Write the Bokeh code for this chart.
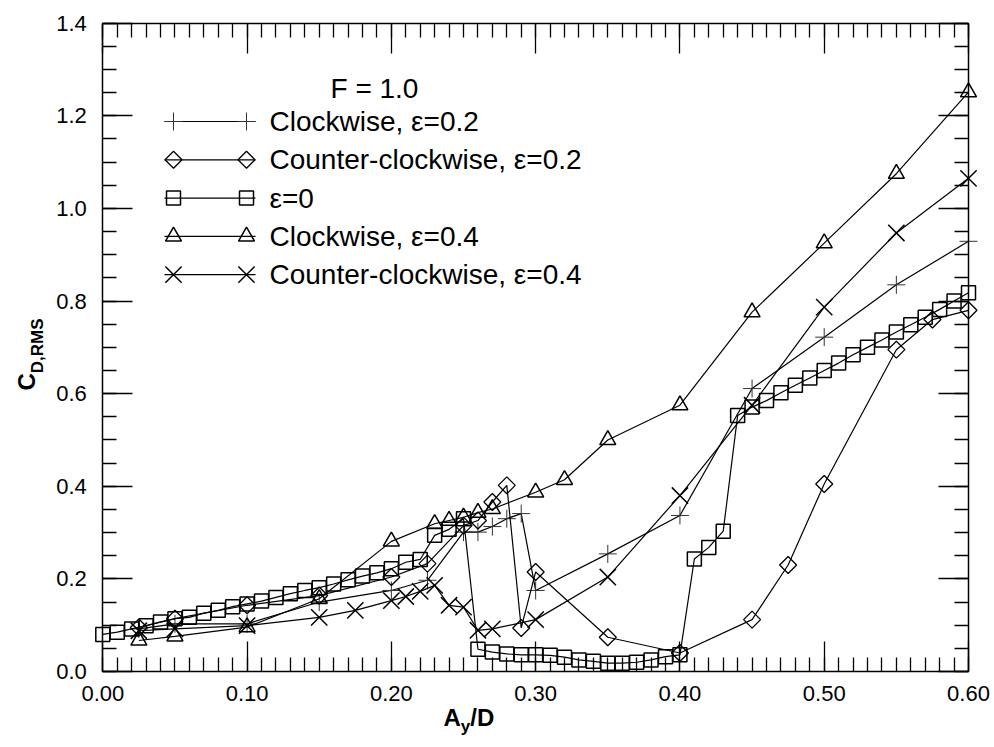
import numpy as np
from bokeh.plotting import figure
from bokeh.models import Range1d, LinearAxis, SingleIntervalTicker, NumeralTickFormatter, Label
from bokeh.embed import file_html
from bokeh.resources import INLINE

# ---------------- data ----------------
cw02_x = [0.025, 0.05, 0.10, 0.15, 0.20, 0.225, 0.25, 0.26, 0.27, 0.28, 0.29, 0.30, 0.35, 0.40, 0.45, 0.50, 0.55, 0.60]
cw02_y = [0.092, 0.103, 0.103, 0.150, 0.175, 0.197, 0.301, 0.301, 0.313, 0.330, 0.341, 0.175, 0.254, 0.337, 0.611, 0.722, 0.835, 0.929]

ccw02_x = [0.025, 0.05, 0.10, 0.15, 0.20, 0.225, 0.25, 0.26, 0.27, 0.28, 0.29, 0.30, 0.35, 0.40, 0.45, 0.475, 0.50, 0.55, 0.575, 0.60]
ccw02_y = [0.095, 0.114, 0.143, 0.164, 0.204, 0.233, 0.315, 0.326, 0.366, 0.402, 0.094, 0.215, 0.074, 0.040, 0.112, 0.230, 0.405, 0.695, 0.760, 0.780]

eps0_x = [0.00, 0.01, 0.02, 0.03, 0.04, 0.05, 0.06, 0.07, 0.08, 0.09,
          0.10, 0.11, 0.12, 0.13, 0.14, 0.15, 0.16, 0.17, 0.18, 0.19,
          0.20, 0.21, 0.22, 0.23, 0.24, 0.25, 0.26, 0.27, 0.28, 0.29,
          0.30, 0.31, 0.32, 0.33, 0.34, 0.35, 0.36, 0.37, 0.38, 0.39,
          0.40, 0.41, 0.42, 0.43, 0.44, 0.45, 0.46, 0.47, 0.48, 0.49,
          0.50, 0.51, 0.52, 0.53, 0.54, 0.55, 0.56, 0.57, 0.58, 0.59, 0.60]
eps0_y = [0.080, 0.085, 0.092, 0.099, 0.107, 0.114, 0.117, 0.126, 0.132, 0.140,
          0.146, 0.152, 0.160, 0.168, 0.175, 0.181, 0.189, 0.198, 0.206, 0.213,
          0.222, 0.236, 0.242, 0.294, 0.307, 0.330, 0.048, 0.042, 0.038, 0.036,
          0.036, 0.035, 0.031, 0.025, 0.022, 0.018, 0.018, 0.020, 0.025, 0.032,
          0.036, 0.243, 0.268, 0.303, 0.553, 0.571, 0.585, 0.602, 0.618, 0.634,
          0.650, 0.666, 0.684, 0.700, 0.716, 0.733, 0.749, 0.765, 0.782, 0.800, 0.818]

cw04_x = [0.025, 0.05, 0.10, 0.15, 0.20, 0.23, 0.24, 0.25, 0.26, 0.27, 0.30, 0.32, 0.35, 0.40, 0.45, 0.50, 0.55, 0.60]
cw04_y = [0.067, 0.076, 0.096, 0.157, 0.281, 0.319, 0.326, 0.333, 0.343, 0.351, 0.387, 0.414, 0.500, 0.575, 0.776, 0.925, 1.075, 1.251]

ccw04_x = [0.025, 0.05, 0.10, 0.15, 0.175, 0.20, 0.21, 0.22, 0.23, 0.24, 0.25, 0.26, 0.27, 0.30, 0.35, 0.40, 0.45, 0.50, 0.55, 0.60]
ccw04_y = [0.088, 0.092, 0.099, 0.117, 0.132, 0.153, 0.162, 0.173, 0.186, 0.143, 0.139, 0.089, 0.092, 0.112, 0.204, 0.380, 0.575, 0.787, 0.947, 1.065]

legend_title = "F = 1.0"
labels = ["Clockwise, \u03b5=0.2", "Counter-clockwise, \u03b5=0.2", "\u03b5=0",
          "Clockwise, \u03b5=0.4", "Counter-clockwise, \u03b5=0.4"]

XMIN, XMAX, YMIN, YMAX = 0.0, 0.6, 0.0, 1.4
x_ticks_interval = 0.1
y_ticks_interval = 0.2

# ---------------- layout (page pixels) ----------------
FONT = "Liberation Sans"
W, H = 992, 741
AX_L, AX_R, AX_T, AX_B = 102.3, 968.0, 22.7, 671.0   # data-rectangle edges in pixels
kx = (AX_R - AX_L) / (XMAX - XMIN)
ky = (AX_B - AX_T) / (YMAX - YMIN)

p = figure(width=W, height=H,
           x_range=Range1d(XMIN - AX_L / kx, XMAX + (W - AX_R) / kx),
           y_range=Range1d(YMIN - (H - AX_B) / ky, YMAX + AX_T / ky),
           output_backend="svg", toolbar_location=None,
           x_axis_location=None, y_axis_location=None,
           min_border=0, min_border_left=0, min_border_right=0,
           min_border_top=0, min_border_bottom=0,
           background_fill_color="white", border_fill_color="white")
p.outline_line_color = None
p.grid.visible = False
p.extra_x_ranges = {"px": Range1d(0, W)}
p.extra_y_ranges = {"px": Range1d(H, 0)}

EPS = 1e-7

def make_axis(kind, loc, show_labels):
    if kind == "x":
        ax = LinearAxis(ticker=SingleIntervalTicker(interval=x_ticks_interval, num_minor_ticks=10),
                        formatter=NumeralTickFormatter(format="0.00"),
                        fixed_location=loc, bounds=(XMIN, XMAX + EPS))
    else:
        ax = LinearAxis(ticker=SingleIntervalTicker(interval=y_ticks_interval, num_minor_ticks=4),
                        formatter=NumeralTickFormatter(format="0.0"),
                        fixed_location=loc, bounds=(YMIN, YMAX + EPS))
    ax.axis_line_color = "black"
    ax.axis_line_width = 1.5
    ax.major_tick_in = 30
    ax.major_tick_out = 0
    ax.minor_tick_in = 14
    ax.minor_tick_out = 0
    ax.major_tick_line_color = "black"
    ax.minor_tick_line_color = "black"
    ax.major_tick_line_width = 1.3
    ax.minor_tick_line_width = 1.3
    ax.major_label_text_font = FONT
    ax.major_label_text_font_size = "22px"
    if show_labels:
        ax.major_label_text_color = "black"
        ax.major_label_standoff = 14 if kind == "x" else 16
    else:
        ax.major_label_text_color = None
    return ax

p.add_layout(make_axis("x", YMIN, True), "below")
p.add_layout(make_axis("x", YMAX, False), "above")
p.add_layout(make_axis("y", XMIN, True), "left")
p.add_layout(make_axis("y", XMAX + EPS, False), "right")

LINE_W = 1.2
styles = [
    dict(marker="cross", size=18, line_color="#333333", line_width=1.0, angle=0.0),
    dict(marker="square", size=12, line_color="black", line_width=1.3, angle=np.pi / 4),
    dict(marker="square", size=14, line_color="black", line_width=1.5, angle=0.0),
    dict(marker="triangle", size=16, line_color="black", line_width=1.5, angle=0.0),
    dict(marker="x", size=23, line_color="black", line_width=1.5, angle=0.0),
]
series = [(cw02_x, cw02_y), (ccw02_x, ccw02_y), (eps0_x, eps0_y), (cw04_x, cw04_y), (ccw04_x, ccw04_y)]

for (xs, ys), st in zip(series, styles):
    p.line(xs, ys, line_color="black", line_width=LINE_W)
    p.scatter(xs, ys, marker=st["marker"], size=st["size"], angle=st["angle"],
              line_color=st["line_color"], line_width=st["line_width"], fill_color=None)

# ---------------- legend (page pixel coordinates) ----------------
row0, drow = 121.0, 38.3
ln0, ln1 = 164.0, 255.0
mk0, mk1 = 173.0, 246.0
txt_x = 269.0
LEG_FS = "28px"
p.add_layout(Label(x=330, y=88, x_range_name="px", y_range_name="px", text=legend_title,
                   text_font=FONT, text_font_size=LEG_FS, text_color="black", text_baseline="middle"))
for i, (lab, st) in enumerate(zip(labels, styles)):
    yy = row0 + i * drow
    p.line([ln0, ln1], [yy, yy], x_range_name="px", y_range_name="px", line_color="black", line_width=LINE_W)
    p.scatter([mk0, mk1], [yy, yy], x_range_name="px", y_range_name="px", marker=st["marker"],
              size=st["size"], angle=st["angle"], line_color=st["line_color"],
              line_width=st["line_width"], fill_color=None)
    p.add_layout(Label(x=txt_x, y=yy, x_range_name="px", y_range_name="px", text=lab,
                       text_font=FONT, text_font_size=LEG_FS, text_color="black", text_baseline="middle"))

# ---------------- axis titles (page pixel coordinates) ----------------
def add_text(px, py, text, size, angle=0.0):
    p.add_layout(Label(x=px, y=py, x_range_name="px", y_range_name="px", text=text,
                       text_font=FONT, text_font_size=size, text_font_style="bold",
                       text_color="black", text_baseline="alphabetic", text_align="left",
                       angle=angle))

# x title: A_y/D
add_text(443, 717, "A", "24px")
add_text(460.3, 726, "y", "17px")
add_text(469.8, 717, "/D", "24px")
# y title: C_D,RMS (rotated)
add_text(26, 390, "C", "24px", angle=np.pi / 2)
add_text(37, 372.7, "D,RMS", "17px", angle=np.pi / 2)

open("out.html", "w").write(file_html(p, INLINE))
